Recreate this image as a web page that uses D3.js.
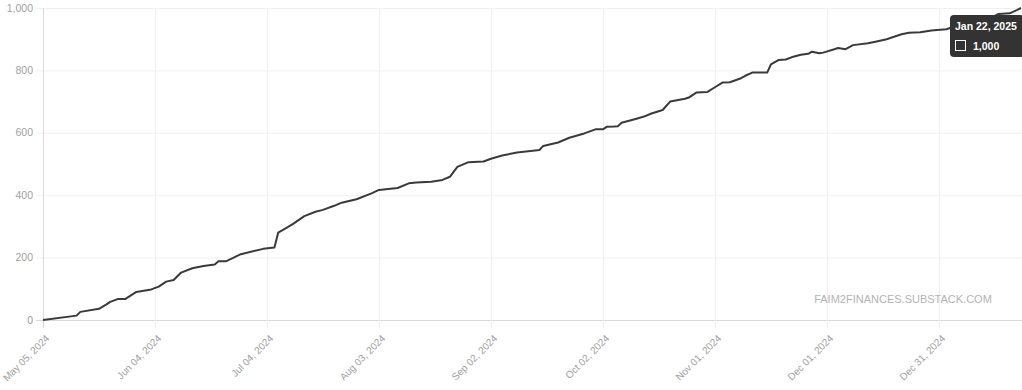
<!DOCTYPE html>
<html>
<head>
<meta charset="utf-8">
<script src="https://cdn.jsdelivr.net/npm/d3@7"></script>
<style>
  body { margin: 0; background: #fff; }
  svg { display: block; font-family: "Liberation Sans", Arial, sans-serif; }
</style>
</head>
<body>
<div id="chart"></div>
<script>
// cumulative subscribers
const dates = [
  "2024-05-05","2024-05-14","2024-05-15","2024-05-20","2024-05-22","2024-05-23","2024-05-25","2024-05-27",
  "2024-05-30","2024-06-03","2024-06-05","2024-06-07","2024-06-09","2024-06-11","2024-06-14","2024-06-17",
  "2024-06-20","2024-06-21","2024-06-23","2024-06-27","2024-07-03","2024-07-06","2024-07-07","2024-07-09",
  "2024-07-11","2024-07-14","2024-07-17","2024-07-19","2024-07-22","2024-07-24","2024-07-28","2024-08-01",
  "2024-08-03","2024-08-08","2024-08-11","2024-08-13","2024-08-17","2024-08-20","2024-08-22","2024-08-24",
  "2024-08-27","2024-08-31","2024-09-02","2024-09-05","2024-09-09","2024-09-12","2024-09-15","2024-09-16",
  "2024-09-20","2024-09-23","2024-09-27","2024-09-30","2024-10-02","2024-10-03","2024-10-05","2024-10-06",
  "2024-10-07","2024-10-11","2024-10-13","2024-10-15","2024-10-18","2024-10-20","2024-10-24","2024-10-25",
  "2024-10-27","2024-10-30","2024-11-01","2024-11-03","2024-11-05","2024-11-08","2024-11-09","2024-11-11",
  "2024-11-15","2024-11-16","2024-11-18","2024-11-20","2024-11-22","2024-11-24","2024-11-26","2024-11-27",
  "2024-11-29","2024-11-30","2024-12-03","2024-12-04","2024-12-06","2024-12-08","2024-12-12","2024-12-14",
  "2024-12-17","2024-12-21","2024-12-23","2024-12-26","2024-12-29","2025-01-02","2025-01-03","2025-01-10",
  "2025-01-15","2025-01-16","2025-01-19","2025-01-21","2025-01-22"
];
const subscribers = [
  0, 14, 26, 36, 50, 58, 67, 67,
  90, 98, 107, 123, 128, 152, 166, 173,
  178, 188, 188, 211, 228, 232, 280, 294,
  308, 333, 347, 353, 366, 376, 387, 406,
  417, 423, 438, 441, 443, 449, 459, 491,
  506, 508, 517, 527, 537, 541, 545, 558,
  569, 584, 598, 611, 611, 619, 620, 621,
  632, 645, 652, 662, 673, 700, 709, 713,
  729, 731, 746, 761, 762, 775, 782, 793,
  793, 819, 833, 835, 844, 850, 853, 860,
  855, 857, 868, 872, 868, 881, 887, 892,
  900, 916, 921, 922, 928, 932, 936, 962,
  975, 981, 983, 994, 1000
];
const yTicks = [0, 200, 400, 600, 800, 1000];
const xTicks = ["2024-05-05","2024-06-04","2024-07-04","2024-08-03","2024-09-02","2024-10-02","2024-11-01","2024-12-01","2024-12-31"];
const tipDate = "Jan 22, 2025";
const tipValue = "1,000";
const watermark = "FAIM2FINANCES.SUBSTACK.COM";

const width = 1022, height = 390;
const margin = {top: 8, right: 1, bottom: 70, left: 43};
const parse = d3.timeParse("%Y-%m-%d");
const data = dates.map((d, i) => ({date: parse(d), value: subscribers[i]}));

const svg = d3.select("#chart").append("svg")
  .attr("width", width)
  .attr("height", height);

const x = d3.scaleTime()
  .domain([parse(dates[0]), parse(dates[dates.length - 1])])
  .range([margin.left, width - margin.right]);

const y = d3.scaleLinear()
  .domain([0, 1000])
  .range([height - margin.bottom, margin.top]);

// grid
svg.append("g")
  .selectAll("line.h")
  .data(yTicks)
  .enter()
  .append("line")
  .attr("x1", margin.left - 7)
  .attr("x2", width)
  .attr("y1", d => y(d) + 0.5)
  .attr("y2", d => y(d) + 0.5)
  .attr("stroke", d => d === 0 ? "#d9d9d9" : "#f0f0f0")
  .attr("stroke-width", 1);

svg.append("g")
  .selectAll("line.v")
  .data(xTicks)
  .enter()
  .append("line")
  .attr("x1", d => Math.round(x(parse(d))) + 0.5)
  .attr("x2", d => Math.round(x(parse(d))) + 0.5)
  .attr("y1", y(1000))
  .attr("y2", y(0) + 8)
  .attr("stroke", (d, i) => i === 0 ? "#d9d9d9" : "#f0f0f0")
  .attr("stroke-width", 1);

// y labels
svg.append("g")
  .selectAll("text")
  .data(yTicks)
  .enter()
  .append("text")
  .attr("x", margin.left - 10)
  .attr("y", d => y(d))
  .attr("dy", "0.35em")
  .attr("text-anchor", "end")
  .attr("font-size", 10.5)
  .attr("fill", "#a0a0a0")
  .text(d => d3.format(",")(d));

// x labels, rotated
const fmt = d3.timeFormat("%b %d, %Y");
svg.append("g")
  .selectAll("text")
  .data(xTicks)
  .enter()
  .append("text")
  .attr("transform", d => "translate(" + (x(parse(d)) + 7) + "," + (y(0) + 19) + ")rotate(-45)")
  .attr("text-anchor", "end")
  .attr("font-size", 10)
  .attr("fill", "#a0a0a0")
  .text(d => fmt(parse(d)));

// watermark
svg.append("text")
  .attr("x", 903)
  .attr("y", 303)
  .attr("text-anchor", "middle")
  .attr("font-size", 11)
  .attr("fill", "#b3b3b3")
  .text(watermark);

// line
const line = d3.line()
  .x(d => x(d.date))
  .y(d => y(d.value));

svg.append("path")
  .datum(data)
  .attr("fill", "none")
  .attr("stroke", "#3a3a3a")
  .attr("stroke-width", 2)
  .attr("stroke-linejoin", "round")
  .attr("d", line);

// tooltip
const tip = svg.append("g").attr("transform", "translate(950,15)");
tip.append("rect")
  .attr("width", 74)
  .attr("height", 42)
  .attr("rx", 4)
  .attr("fill", "#333");
tip.append("text")
  .attr("x", 5)
  .attr("y", 15)
  .attr("font-size", 10.5)
  .attr("font-weight", "bold")
  .attr("fill", "#fff")
  .text(tipDate);
tip.append("rect")
  .attr("x", 5.5)
  .attr("y", 25.5)
  .attr("width", 10)
  .attr("height", 10)
  .attr("fill", "#333")
  .attr("stroke", "#fff")
  .attr("stroke-width", 1);
tip.append("text")
  .attr("x", 23)
  .attr("y", 34.5)
  .attr("font-size", 10.5)
  .attr("font-weight", "bold")
  .attr("fill", "#fff")
  .text(tipValue);
</script>
</body>
</html>
